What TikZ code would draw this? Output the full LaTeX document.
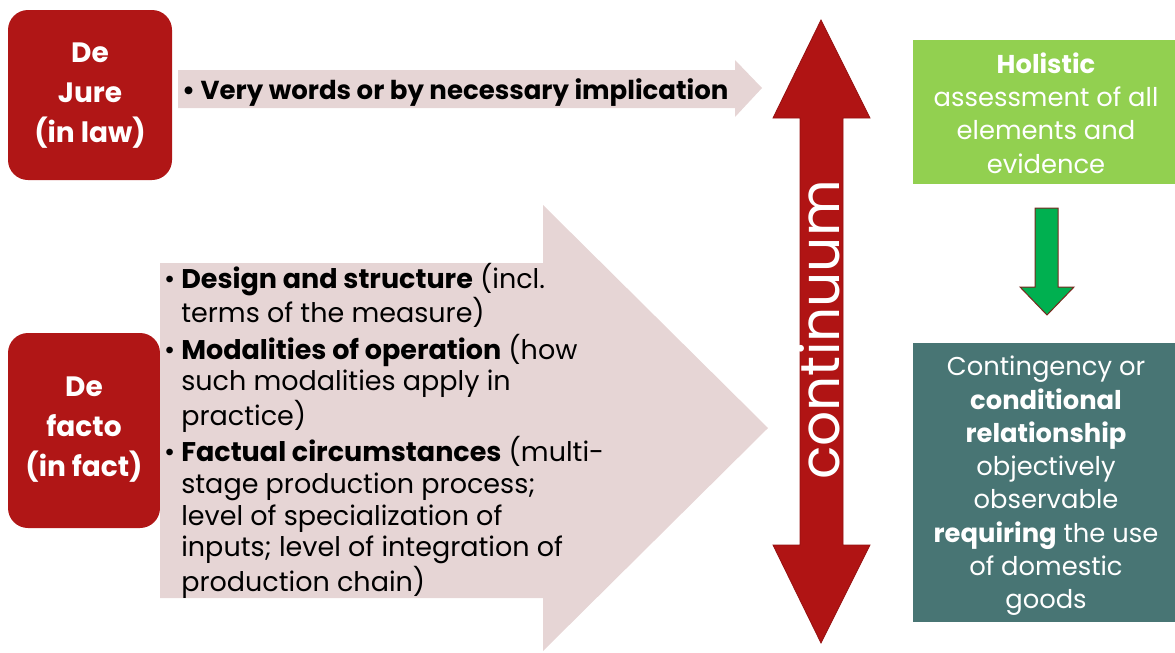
\documentclass[tikz,border=0pt]{standalone}
\usepackage{fontspec}
\setmainfont{Poppins}
\definecolor{boxred}{RGB}{176,22,22}
\definecolor{pinkfill}{RGB}{230,213,213}
\definecolor{arrowred}{RGB}{176,20,20}
\definecolor{lightgreen}{RGB}{146,208,80}
\definecolor{darkteal}{RGB}{72,117,116}
\definecolor{arrowgreen}{RGB}{0,176,80}
\definecolor{arrowedge}{RGB}{120,40,30}
\begin{document}
\begin{tikzpicture}[x=1pt,y=-1pt,
  redbox/.style={fill=boxred, rounded corners=20pt},
  redtext/.style={text=white, align=center, font=\fontsize{28}{40}\selectfont\bfseries, inner sep=0pt},
  pinkarrow/.style={fill=pinkfill},
  whitetext/.style={text=white, align=center, font=\fontsize{25.8}{33.3}\selectfont, inner sep=0pt},
  bullettext/.style={text=black, anchor=west, inner sep=0pt, font=\fontsize{27}{31.7}\selectfont}
]
\useasboundingbox (0,0) rectangle (1175,653);
% left red boxes
\fill[redbox] (8,10) rectangle (172,180);
\node[redtext] (dejure) at (90,96) {De\\Jure\\(in law)};
\fill[redbox] (8,333) rectangle (160,528);
\node[redtext] (defacto) at (84,430) {De\\facto\\(in fact)};
% small pink arrow
\fill[pinkarrow] (178,70) -- (735,70) -- (735,60) -- (762,88) -- (735,117) -- (735,108) -- (178,108) -- cycle;
\node[bullettext, font=\fontsize{26}{30}\selectfont\bfseries] (vw) at (182,93) {• Very words or by necessary implication};
% big pink arrow
\fill[pinkarrow] (160,263) -- (543,263) -- (543,205) -- (768,428) -- (543,651) -- (543,598) -- (160,598) -- cycle;
\node[bullettext] (bul) at (164,432) {\renewcommand\arraystretch{1}%
\begin{tabular}{@{}l@{\hspace{6pt}}l@{}}
• & \textbf{Design and structure} (incl.\\
  & terms of the measure)\\[1.5pt]
• & \textbf{Modalities of operation} (how\\
  & such modalities apply in\\
  & practice)\\[1.5pt]
• & \textbf{Factual circumstances} (multi-\\
  & stage production process;\\
  & level of specialization of\\
  & inputs; level of integration of\\
  & production chain)
\end{tabular}};
% red double arrow
\filldraw[fill=arrowred, draw=arrowred!85!black, line width=0.8pt]
  (800,118) -- (773,118) -- (821,20) -- (870,118) -- (843,118) -- (843,545) -- (870,545) -- (821,643) -- (773,545) -- (800,545) -- cycle;
\node[text=white, rotate=90, anchor=base, inner sep=0pt, font=\fontsize{55}{55}\selectfont] (cont) at (839,330) {continuum};
% green box
\fill[lightgreen] (913,40) rectangle (1175,184);
\node[whitetext] (hol) at (1046,113) {\textbf{Holistic}\\assessment of all\\elements and\\evidence};
% green arrow
\filldraw[fill=arrowgreen, draw=arrowedge, line width=1pt]
  (1035,208) -- (1058,208) -- (1058,287) -- (1074,287) -- (1047,315) -- (1020,287) -- (1035,287) -- cycle;
% teal box
\fill[darkteal] (913,343) rectangle (1175,622);
\node[whitetext] (cont2) at (1046,486) {Contingency or\\\textbf{conditional}\\\textbf{relationship}\\objectively\\observable\\\textbf{requiring} the use\\of domestic\\goods};
\end{tikzpicture}
\end{document}
